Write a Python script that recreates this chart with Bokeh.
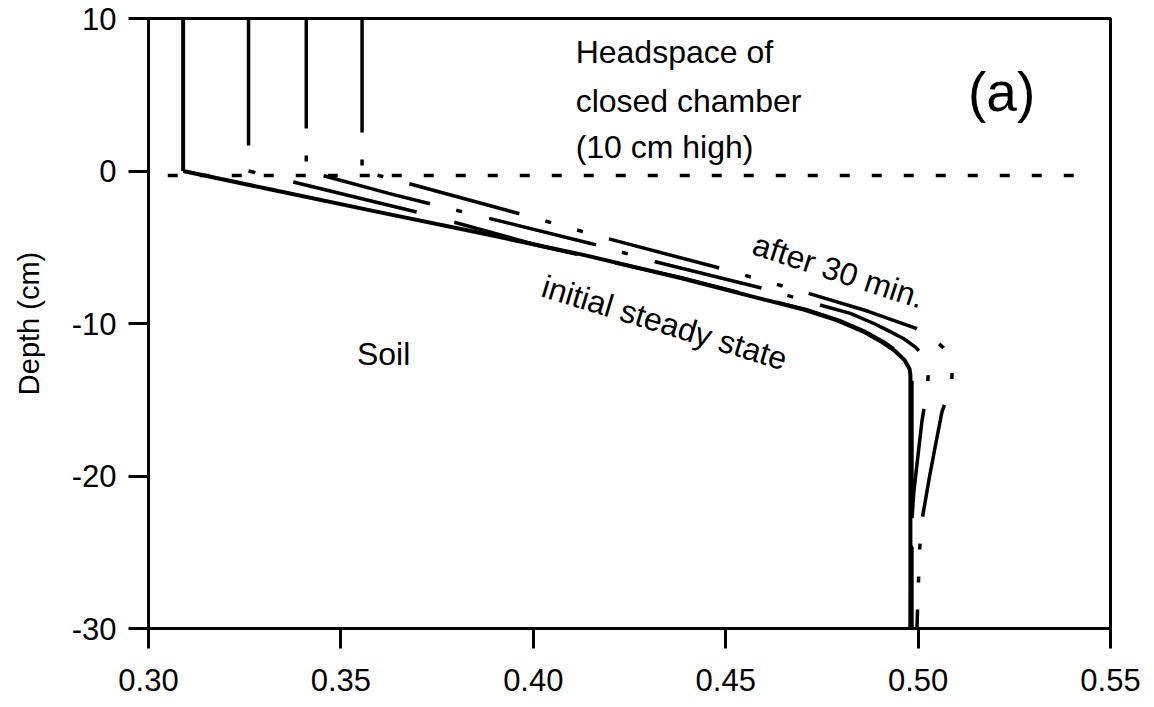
from bokeh.plotting import figure
from bokeh.models import Range1d, FixedTicker, Label
from bokeh.embed import file_html
from bokeh.resources import INLINE

FONT = "Liberation Sans"

# ---- axis ticks ----
x_ticks = [0.30, 0.35, 0.40, 0.45, 0.50, 0.55]
x_tick_labels = ["0.30", "0.35", "0.40", "0.45", "0.50", "0.55"]
y_ticks = [-30, -20, -10, 0, 10]
y_tick_labels = ["-30", "-20", "-10", "0", "10"]

# ---- headspace (uniform concentration above soil surface) ----
headspace_depth = [10, 0]
headspace_conc = [0.309, 0.326, 0.341, 0.3555]   # initial, t1, t2, after 30 min

# ---- soil profiles ----
depth_initial = [0, -1.2, -2.6, -4.0, -5.5, -7.0, -8.3, -9.1, -9.8, -10.5, -11.2, -11.8, -12.4, -13.0, -13.4, -30]
conc_initial = [0.309, 0.3315, 0.358, 0.385, 0.413, 0.438, 0.458, 0.4705, 0.479, 0.4855, 0.4905, 0.494, 0.4965, 0.4978, 0.498, 0.498]

depth_t1 = [0, -2.1, -2.8, -4.9, -7.0, -8.3, -9.1, -9.8, -10.5, -11.2, -11.8, -12.4, -13.0, -13.4, -30]
conc_t1 = [0.326, 0.360, 0.3715, 0.4015, 0.4385, 0.4585, 0.471, 0.4795, 0.486, 0.491, 0.4945, 0.497, 0.4982, 0.4984, 0.4984]

depth_t2 = [0, -1.5, -3.1, -4.75, -6.0, -7.7, -8.8, -9.34, -10.0, -10.5, -11.0, -11.55, -12.0, -12.5, -13.5, -14.4, -16.4, -21, -23.6, -30]
conc_t2 = [0.341, 0.3629, 0.3884, 0.4149, 0.4325, 0.4598, 0.4747, 0.4824, 0.4885, 0.4925, 0.4963, 0.4993, 0.5010, 0.5022, 0.5026, 0.5023, 0.5010, 0.4989, 0.4982, 0.498]

depth_t3 = [0, -0.82, -2.79, -4.43, -6.33, -8.0, -9.2, -10.3, -11.0, -11.6, -12.3, -13.0, -13.85, -14.8, -15.8, -18, -20, -22.9, -24.8, -26.9, -30]
conc_t3 = [0.3555, 0.3676, 0.3962, 0.4193, 0.4479, 0.4712, 0.487, 0.4993, 0.5040, 0.5066, 0.5082, 0.5089, 0.5087, 0.5076, 0.5062, 0.5045, 0.5030, 0.5010, 0.5004, 0.5001, 0.4997]

# soil surface marker
surface_conc = [0.305, 0.5435]
surface_depth = [-0.3, -0.3]

p = figure(width=1154, height=707,
           x_range=Range1d(0.30, 0.55), y_range=Range1d(-30, 10),
           output_backend="svg", toolbar_location=None,
           min_border_left=148, min_border_right=44,
           min_border_top=18, min_border_bottom=79)

p.background_fill_color = "white"
p.border_fill_color = "white"
p.outline_line_color = "black"
p.outline_line_width = 3
p.xgrid.visible = False
p.ygrid.visible = False

# styles: (width, dash, dash offset for soil part)
styles = [
    dict(line_width=4, line_dash="solid", off_soil=0),
    dict(line_width=3.5, line_dash="127 39", off_soil=120),
    dict(line_width=3.5, line_dash="110 27 6 28", off_soil=153),
    dict(line_width=3.5, line_dash="114 27 6 27 6 27", off_soil=158),
]
profiles = [(conc_initial, depth_initial), (conc_t1, depth_t1),
            (conc_t2, depth_t2), (conc_t3, depth_t3)]

p.line(surface_conc, surface_depth, line_color="black", line_width=3.5, line_dash="10 22")

for i in [3, 2, 1, 0]:
    st = styles[i]
    hc = headspace_conc[i]
    p.line([hc, hc], headspace_depth, line_color="black", line_width=st["line_width"],
           line_dash=st["line_dash"])
    xs, ys = profiles[i]
    p.line(xs, ys, line_color="black", line_width=st["line_width"],
           line_dash=st["line_dash"], line_dash_offset=st["off_soil"],
           line_join="round")

# axes
for ax in (p.xaxis[0], p.yaxis[0]):
    ax.axis_line_width = 3
    ax.axis_line_color = "black"
    ax.major_tick_line_width = 3
    ax.major_tick_line_color = "black"
    ax.major_tick_out = 20
    ax.major_tick_in = 0
    ax.minor_tick_line_color = None
    ax.major_label_text_font = FONT
    ax.major_label_text_font_size = "31px"
    ax.major_label_text_color = "black"

p.xaxis.ticker = FixedTicker(ticks=x_ticks)
p.xaxis.major_label_overrides = {t: l for t, l in zip(x_ticks, x_tick_labels)}
p.xaxis.major_label_standoff = 20
p.yaxis.ticker = FixedTicker(ticks=y_ticks)
p.yaxis.major_label_overrides = {t: l for t, l in zip(y_ticks, y_tick_labels)}
p.yaxis.major_label_standoff = 12

p.yaxis.axis_label = "Depth (cm)"
p.yaxis.axis_label_text_font = FONT
p.yaxis.axis_label_text_font_style = "normal"
p.yaxis.axis_label_text_font_size = "29px"
p.yaxis.axis_label_text_color = "black"
p.yaxis.axis_label_standoff = 24

def lab(x, y, text, size="32px", angle=0, align="left"):
    p.add_layout(Label(x=x, y=y, text=text, text_font=FONT, text_font_size=size,
                       text_color="black", text_align=align, text_baseline="middle",
                       angle=angle, angle_units="deg"))

lab(0.411, 7.8, "Headspace of")
lab(0.411, 4.6, "closed chamber")
lab(0.411, 1.55, "(10 cm high)")
lab(0.5217, 5.15, "(a)", size="55px", align="center")
lab(0.3611, -11.97, "Soil", align="center")
lab(0.4793, -6.55, "after 30 min.", angle=-18, align="center")
lab(0.4341, -9.95, "initial steady state", angle=-17, align="center")

open("out.html", "w").write(file_html(p, INLINE))
